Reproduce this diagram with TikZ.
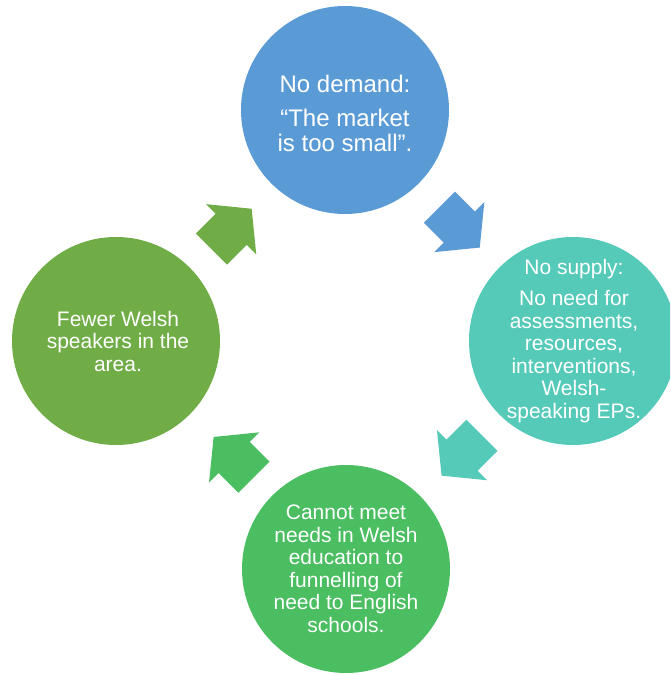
\documentclass[tikz,border=0pt]{standalone}
\usepackage{fontspec}
\setmainfont{Liberation Sans}
\definecolor{blueC}{HTML}{5B9BD5}
\definecolor{tealC}{HTML}{55CAB8}
\definecolor{greenB}{HTML}{4ABE61}
\definecolor{greenL}{HTML}{70AD47}
\begin{document}
\begin{tikzpicture}[x=1pt,y=1pt,
  circ/.style={circle,fill=#1,minimum size=208pt,inner sep=0pt},
  lbl/.style={text=white,align=center,inner sep=0pt,font=\fontsize{21}{22.5}\selectfont},
  lblbig/.style={text=white,align=center,inner sep=0pt,font=\fontsize{24}{25}\selectfont},
  blockarrow/.pic={\fill[#1] (-28.5,-22) -- (-0.5,-22) -- (-0.5,-35.5) -- (28.5,0) -- (-0.5,35.5) -- (-0.5,22) -- (-28.5,22) -- cycle;}]
\clip (0,0) rectangle (670,-675);
\fill[white] (0,0) rectangle (670,-675);
% circles
\node[circ=blueC]  (top)    at (345,-110) {};
\node[circ=tealC]  (right)  at (573,-341) {};
\node[circ=greenB] (bottom) at (346,-569) {};
\node[circ=greenL] (left)   at (116,-341) {};
% texts
\node[lblbig] (ttop) at ([yshift=-3pt]top.center) {No demand:\\[9pt]\textquotedblleft The market\\is too small\textquotedblright.};
\node[lbl] (tright) at ([xshift=1pt]right.center) {No supply:\\[9pt]No need for\\assessments,\\resources,\\interventions,\\Welsh-\\speaking EPs.};
\node[lbl] (tbottom) at (bottom.center) {Cannot meet\\needs in Welsh\\education to\\funnelling of\\need to English\\schools.};
\node[lbl] (tleft) at ([xshift=2pt]left.center) {Fewer Welsh\\speakers in the\\area.};
% block arrows
\pic (a1) [rotate=45]   at (231.5,-228.9) {blockarrow=greenL};
\pic (a2) [rotate=-45]  at (459.6,-227.4) {blockarrow=blueC};
\pic (a3) [rotate=-135] at (461.7,-455.5) {blockarrow=tealC};
\pic (a4) [rotate=135]  at (233.8,-457.1) {blockarrow=greenB};
\end{tikzpicture}
\end{document}
